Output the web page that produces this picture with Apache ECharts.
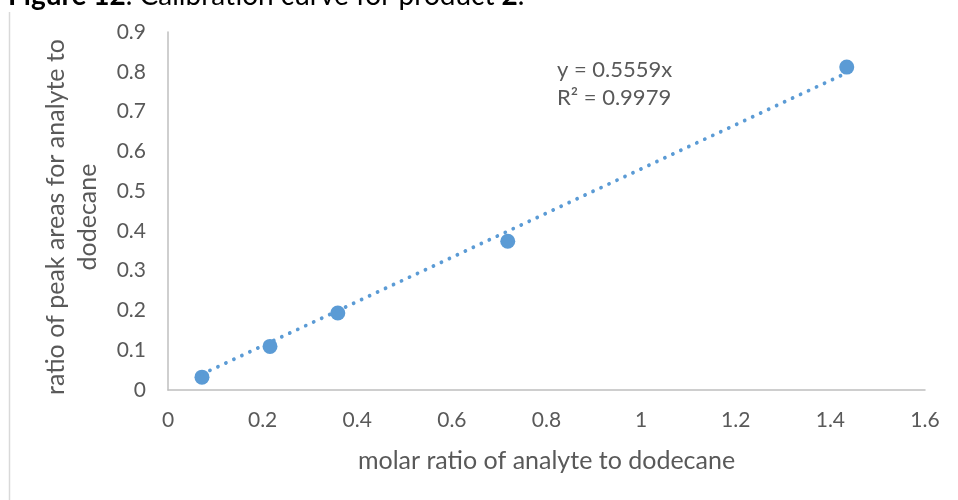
<!DOCTYPE html>
<html>
<head>
<meta charset="utf-8">
<title>Calibration curve</title>
<script src="https://cdn.jsdelivr.net/npm/echarts@6/dist/echarts.min.js"></script>
<style>
  html, body { margin: 0; padding: 0; background: #fff; }
  #main { width: 958px; height: 500px; }
</style>
</head>
<body>
<div id="main"></div>
<script>
// 数据: 摩尔比 vs 峰面积比
var molarRatio = [0.0718, 0.2156, 0.3589, 0.7181, 1.4346];
var areaRatio  = [0.0323, 0.1096, 0.1935, 0.3741, 0.8118];
// 趋势线 (excel 线性, 截距 0)
var slope = 0.5559;
var rSquared = 0.9979;
var xTicks = { min: 0, max: 1.6, interval: 0.2 };
var yTicks = { min: 0, max: 0.9, interval: 0.1 };

var myChart = echarts.init(document.getElementById('main'));

var points = [];
for (let i = 0; i < molarRatio.length; i++) {
    points.push([molarRatio[i], areaRatio[i]]);
}
var xLo = Math.min.apply(null, molarRatio);
var xHi = Math.max.apply(null, molarRatio);
var trend = [[xLo, slope * xLo], [xHi, slope * xHi]];

var font = 'Lato, "Open Sans", sans-serif';
var grey = '#595959';

var option = {
    animation: false,
    grid: { left: 168, right: 33, top: 32, bottom: 110 },
    xAxis: {
        type: 'value',
        min: xTicks.min, max: xTicks.max, interval: xTicks.interval,
        name: 'molar ratio of analyte to dodecane',
        nameLocation: 'middle',
        nameGap: 58,
        nameTextStyle: { color: grey, fontSize: 25, fontFamily: font },
        axisLine: { show: true, lineStyle: { color: '#bfbfbf', width: 1.5 } },
        axisTick: { show: false },
        splitLine: { show: false },
        axisLabel: { color: grey, fontSize: 21, fontFamily: font, margin: 20 }
    },
    yAxis: {
        type: 'value',
        min: yTicks.min, max: yTicks.max, interval: yTicks.interval,
        name: 'ratio of peak areas for analyte to\ndodecane',
        nameLocation: 'middle',
        nameGap: 64,
        nameTextStyle: {
            color: grey, fontSize: 25, fontFamily: font, lineHeight: 32,
            padding: [0, 12, 0, 0]
        },
        axisLine: { show: true, lineStyle: { color: '#bfbfbf', width: 1.5 } },
        axisTick: { show: false },
        splitLine: { show: false },
        axisLabel: { color: grey, fontSize: 21, fontFamily: font, margin: 22 }
    },
    graphic: [
        {
            type: 'line',
            shape: { x1: 9.5, y1: 12, x2: 9.5, y2: 500 },
            style: { stroke: '#d9d9d9', lineWidth: 1.5 }
        },
        {
            type: 'text',
            x: 8, y: -4,
            style: {
                text: '{b|Figure 12}. Calibration curve for product {b|2}.',
                fontSize: 28, fontFamily: font, fill: '#000',
                verticalAlign: 'middle',
                rich: { b: { fontWeight: 'bold', fontSize: 28, fontFamily: font } }
            }
        },
        {
            // 趋势线公式
            type: 'text',
            x: 557, y: 56,
            style: {
                text: 'y = ' + slope + 'x\nR² = ' + rSquared,
                fontSize: 22, fontFamily: font, fill: grey,
                lineHeight: 28, verticalAlign: 'top'
            }
        }
    ],
    series: [
        {
            type: 'scatter',
            data: points,
            symbolSize: 15,
            itemStyle: { color: '#5b9bd5', opacity: 1 }
        },
        {
            type: 'line',
            data: trend,
            symbol: 'none',
            z: 3,
            lineStyle: { color: '#5b9bd5', width: 3.8, type: [0.01, 8.8], cap: 'round' }
        }
    ]
};

myChart.setOption(option);
</script>
</body>
</html>
